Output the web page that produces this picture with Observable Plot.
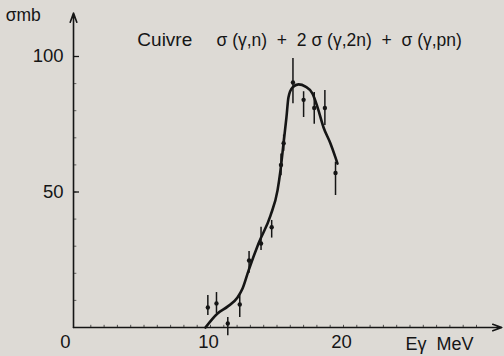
<!DOCTYPE html>
<html>
<head>
<meta charset="utf-8">
<script src="https://cdn.jsdelivr.net/npm/d3@7"></script>
<script src="https://cdn.jsdelivr.net/npm/@observablehq/plot@0.6"></script>
<style>
  html, body { margin: 0; padding: 0; background: #dddad5; }
  #chart svg { display: block; }
</style>
</head>
<body>
<div id="chart"></div>
<script>
// Measured points (E in MeV, sigma in mb) with error bar ends
const energy  = [9.8, 10.45, 11.3, 12.2, 12.9, 13.8, 14.6, 15.3, 15.5, 16.2, 17.0, 17.8, 18.6, 19.4];
const sigma   = [7.4, 8.9, 1.5, 8.5, 24.7, 31, 37, 60, 68, 90.4, 84, 81, 81, 57];
const errLow  = [4.4, 5.2, -3, 3.7, 20, 28.4, 33, 56, 65, 82.6, 77.5, 75, 74.5, 48.7];
const errHigh = [11.8, 12.9, 3.7, 12.5, 28, 37, 39.5, 64, 71, 99.3, 87, 86.7, 87.5, 61];

// Fitted curve
const curveE = [9.62, 10.53, 11.28, 12.03, 12.41, 12.86, 13.61, 14.51, 15.04, 15.26, 15.49, 15.71, 15.86, 16.17, 16.62, 17.14, 17.67, 18.05, 18.50, 19.02, 19.40, 19.55];
const curveS = [0, 5.2, 7.7, 11.1, 14.4, 21.0, 31.0, 41.3, 50.6, 57.9, 67.9, 77.5, 84.9, 88.6, 89.7, 88.9, 86.3, 81.2, 73.8, 67.9, 62.7, 60.5];

// Tick labels
const yTickLabels = [50, 100];
const xTickLabels = [10, 20];
const xOrigin = [0];
const xMinor = d3.range(1, 31);
const yMinor = d3.range(10, 101, 10);

const title = "Cuivre";
const formula = "σ (γ,n)  +  2 σ (γ,2n)  +  σ (γ,pn)";
const yLabel = "σmb";
const xLabel = "Eγ  MeV";

const points = energy.map((e, i) => ({E: e, s: sigma[i], lo: errLow[i], hi: errHigh[i]}));
const curve = curveE.map((e, i) => ({E: e, s: curveS[i]}));

const ink = "#151515";
const font = "'Liberation Sans', Arial, sans-serif";

const chart = Plot.plot({
  width: 504,
  height: 356,
  marginLeft: 77,
  marginRight: 28,
  marginTop: 56,
  marginBottom: 29,
  x: {domain: [0, 30], axis: null},
  y: {domain: [0, 100], axis: null},
  style: {background: "#dddad5", fontFamily: font, color: ink, overflow: "visible"},
  marks: [
    // axes with arrows
    Plot.arrow([0], {x1: -0.3, y1: 0, x2: 31.9, y2: 0, stroke: ink, strokeWidth: 1.6, headLength: 9, headAngle: 40}),
    Plot.arrow([0], {x1: -0.3, y1: 0, x2: -0.3, y2: 116, stroke: ink, strokeWidth: 1.6, headLength: 9, headAngle: 40}),
    // minor ticks
    Plot.ruleX(xMinor, {x: d => d, y1: 0, y2: 0.8, stroke: ink, strokeWidth: 1, strokeOpacity: 0.7}),
    Plot.ruleY(yMinor, {y: d => d, x1: -0.3, x2: -0.05, stroke: ink, strokeWidth: 1, strokeOpacity: 0.6}),
    Plot.ruleY(yTickLabels, {y: d => d, x1: -0.3, x2: 0.15, stroke: ink, strokeWidth: 1.3}),
    // tick labels
    Plot.text(yTickLabels, {x: -0.3, y: d => d, text: d => String(d), textAnchor: "end", dx: -10, fontSize: 18.5, fill: ink}),
    Plot.text(xTickLabels, {x: d => d, y: 0, text: d => String(d), dy: 15, dx: -2, fontSize: 18.5, fill: ink}),
    Plot.text(xOrigin, {x: d => d, y: 0, text: d => String(d), dy: 15, dx: -12, fontSize: 18.5, fill: ink}),
    // labels
    Plot.text([yLabel], {x: -5.4, y: 115, text: d => d, textAnchor: "start", fontSize: 17.5, fill: ink}),
    Plot.text([xLabel], {x: 24.66, y: -6, text: d => d, textAnchor: "start", fontSize: 18, fill: ink}),
    Plot.text([title], {x: 4.5, y: 106, text: d => d, textAnchor: "start", fontSize: 19, fill: ink}),
    Plot.text([formula], {x: 10.45, y: 106, text: d => d, textAnchor: "start", fontSize: 17.5, fill: ink}),
    // error bars
    Plot.ruleX(points, {x: "E", y1: "lo", y2: "hi", stroke: ink, strokeWidth: 1.5}),
    Plot.dot(points, {x: "E", y: "s", r: 2.2, fill: ink, stroke: "none"}),
    // fitted curve
    Plot.line(curve, {x: "E", y: "s", curve: "monotone-x", stroke: ink, strokeWidth: 2.6})
  ]
});
document.getElementById("chart").append(chart);
</script>
</body>
</html>
